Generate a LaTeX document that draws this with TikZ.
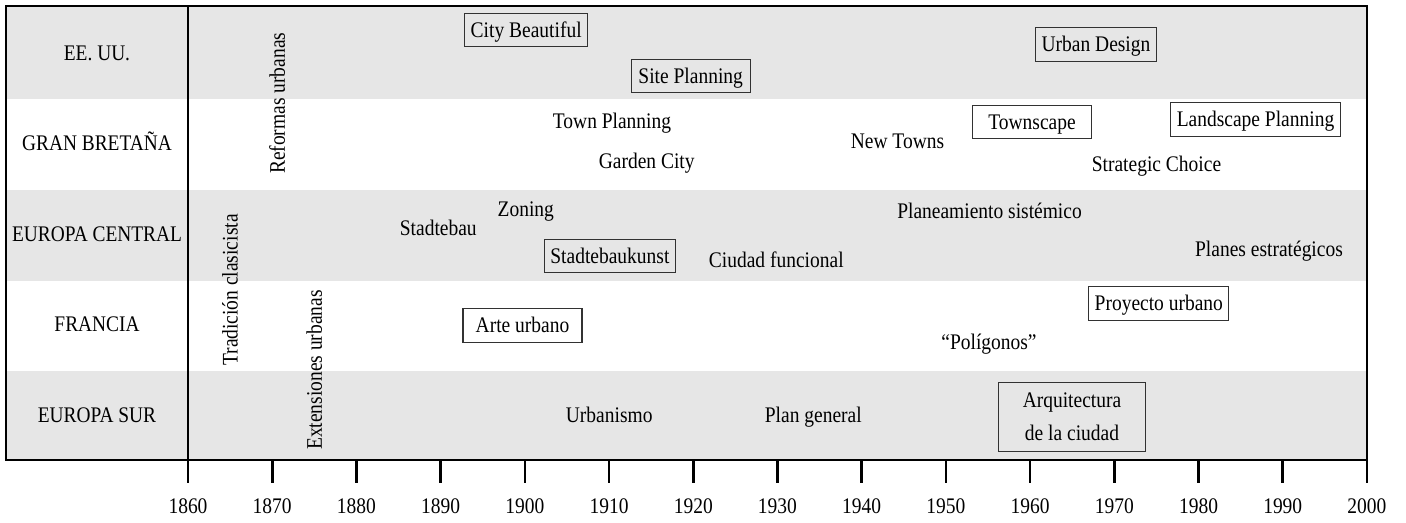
\documentclass[tikz,border=0pt]{standalone}
\usepackage{fontspec}
\setmainfont[FakeStretch=0.875]{Liberation Serif}
\newfontfamily\capsfont[FakeStretch=0.87]{Liberation Serif}
\definecolor{rowgray}{RGB}{230,230,230}
\definecolor{boxline}{RGB}{50,50,50}
\begin{document}
\begin{tikzpicture}[x=0.75pt,y=-0.75pt,
  every node/.style={font=\fontsize{16.7pt}{24.5pt}\selectfont},
  country/.style={font=\capsfont\fontsize{16.7pt}{24.5pt}\selectfont, anchor=base, inner sep=0pt},
  term/.style={anchor=base, inner sep=0pt},
  tbox/.style={draw=boxline, line width=0.8pt, anchor=base, minimum width=89.25pt,
    inner xsep=4.5pt, inner ysep=5.25pt, text height=12.75pt, text depth=1.9pt},
  tallbox/.style={draw=boxline, line width=0.8pt, align=center, minimum width=110.5pt,
    minimum height=51.5pt, inner sep=0pt},
  vterm/.style={rotate=90, inner sep=0pt, anchor=center},
  frameline/.style={line width=2pt},
  year/.style={anchor=base, inner sep=0pt}]
\useasboundingbox (0,0) rectangle (1406,522);
% row bands
\fill[rowgray] (6,6) rectangle (1367,99);
\fill[rowgray] (6,190) rectangle (1367,281);
\fill[rowgray] (6,371) rectangle (1367,460);
% frame
\draw[frameline] (6,6) rectangle (1367,460);
\draw[frameline] (188,6) -- (188,483);
\draw[frameline] (1367,460) -- (1367,483);
\foreach \i in {1,...,13} \draw[frameline] ({188+84.21*\i},460) -- ++(0,23);
\foreach \i in {0,...,14} {
  \pgfmathtruncatemacro\yr{1860+10*\i}
  \node[year] (yr\i) at ({188+84.21*\i},513.3) {\yr};
}
% country labels
\node[country] (usa) at (97,60) {EE. UU.};
\node[country] (gb) at (97,150.7) {GRAN BRETAÑA};
\node[country] (ec) at (97,241.7) {EUROPA CENTRAL};
\node[country] (fr) at (97,331) {FRANCIA};
\node[country] (es) at (97,422.3) {EUROPA SUR};
% rotated terms
\node[vterm] (reformas) at (277.2,103.3) {Reformas urbanas};
\node[vterm] (tradicion) at (230,290) {Tradición clasicista};
\node[vterm] (extensiones) at (314.3,370) {Extensiones urbanas};
% boxed terms
\node[tbox] (citybeautiful) at (526.2,37.3) {City Beautiful};
\node[tbox] (siteplanning) at (690.7,83.3) {Site Planning};
\node[tbox] (urbandesign) at (1096,51.7) {Urban Design};
\node[tbox] (townscape) at (1032,129.3) {Townscape};
\node[tbox] (landscape) at (1255.5,126.7) {Landscape Planning};
\node[tbox] (stadtebaukunst) at (609.9,263.3) {Stadtebaukunst};
\node[tbox] (arteurbano) at (522.5,332.7) {Arte urbano};
\node[tbox] (proyecto) at (1158.8,310.7) {Proyecto urbano};
\node[tallbox] (arquitectura) at (1072,416.7) {Arquitectura\\de la ciudad};
% plain terms
\node[term] (townplanning) at (612,128.3) {Town Planning};
\node[term] (newtowns) at (897.5,148.3) {New Towns};
\node[term] (gardencity) at (646.7,168.3) {Garden City};
\node[term] (strategic) at (1156.5,171.7) {Strategic Choice};
\node[term] (stadtebau) at (438.3,235) {Stadtebau};
\node[term] (zoning) at (525.8,216.7) {Zoning};
\node[term] (planeamiento) at (989.5,218.3) {Planeamiento sistémico};
\node[term] (ciudad) at (776.3,267) {Ciudad funcional};
\node[term] (planes) at (1269,256.7) {Planes estratégicos};
\node[term] (poligonos) at (989,349.3) {“Polígonos”};
\node[term] (urbanismo) at (609.2,422.3) {Urbanismo};
\node[term] (plangeneral) at (813.3,422.3) {Plan general};
\end{tikzpicture}
\end{document}
